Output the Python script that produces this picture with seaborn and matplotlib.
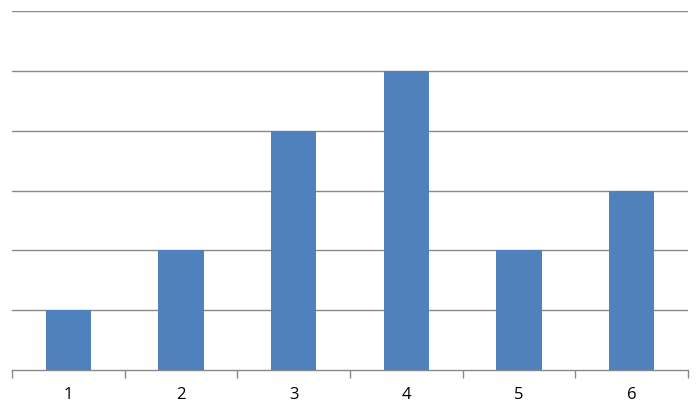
import pandas as pd
import seaborn as sns
import matplotlib.pyplot as plt
from matplotlib.ticker import FixedLocator

# dados do gráfico
categorias = ["1", "2", "3", "4", "5", "6"]
valores = [1, 2, 4, 5, 2, 3]

df = pd.DataFrame({"Categoria": categorias, "Valor": valores})

sns.set_style("white")
plt.rcParams['font.family'] = ['Open Sans', 'DejaVu Sans']

fig = plt.figure(figsize=(7, 4.07), dpi=100)
graf = fig.add_axes([12 / 700, 37 / 407, 676 / 700, 359 / 407])

sns.barplot(data=df, x="Categoria", y="Valor", ax=graf, color="#4F81BD",
            width=0.4, saturation=1, zorder=3, linewidth=0, edgecolor="none")

graf.set_xlim(-0.5, 5.5)
graf.set_ylim(0, 6)
graf.set_yticks(range(1, 7))
graf.set_yticklabels([])
graf.yaxis.grid(True, color="#898989", linewidth=1)
graf.tick_params(axis="y", length=0)

# marcas entre as categorias
graf.xaxis.set_minor_locator(FixedLocator([i - 0.5 for i in range(7)]))
graf.tick_params(axis="x", which="major", bottom=True, length=0, pad=12,
                 labelsize=12, colors="#000000")
graf.tick_params(axis="x", which="minor", bottom=True, length=6, width=1,
                 color="#898989", direction="out")
graf.set_xlabel("")
graf.set_ylabel("")

for lado in ["top", "right", "left"]:
    graf.spines[lado].set_visible(False)
graf.spines["bottom"].set_color("#898989")
graf.spines["bottom"].set_linewidth(1)

fig.savefig("out.png", dpi=100)
